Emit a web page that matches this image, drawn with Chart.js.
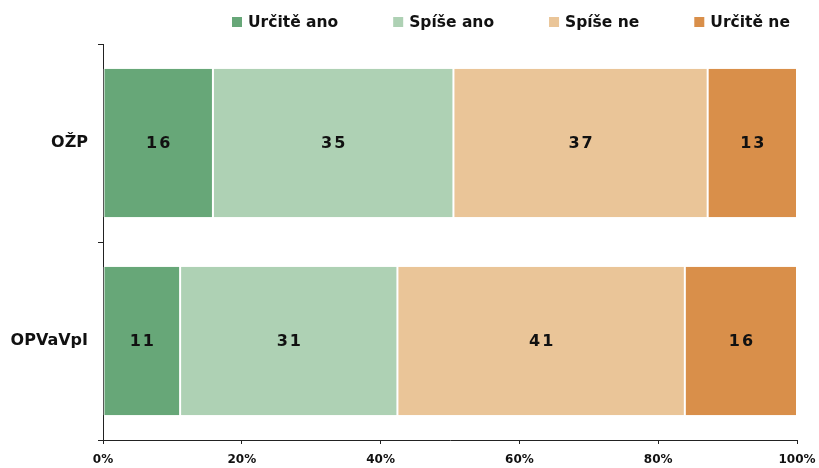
<!DOCTYPE html>
<html>
<head>
<meta charset="utf-8">
<script src="https://cdn.jsdelivr.net/npm/chart.js@4"></script>
<style>
  html, body { margin: 0; padding: 0; background: #fff; }
  #wrap { width: 819px; height: 468px; }
</style>
</head>
<body>
<div id="wrap"><canvas id="chart"></canvas></div>
<script>
// Survey answers per programme
const categories = ["OŽP", "OPVaVpI"];
const seriesNames = ["Určitě ano", "Spíše ano", "Spíše ne", "Určitě ne"];
const urciteAno = [16, 11];
const spiseAno = [35, 31];
const spiseNe = [37, 41];
const urciteNe = [13, 16];
const tickLabels = ["0%", "20%", "40%", "60%", "80%", "100%"];

const colors = ["#67a778", "#aed1b4", "#eac598", "#d98f4a"];
const raw = [urciteAno, spiseAno, spiseNe, urciteNe];
const FONT = "'DejaVu Sans'";

// bars are stacked to 100 % of each row's total
const totals = categories.map((c, i) => raw.reduce((s, arr) => s + arr[i], 0));

const datasets = raw.map((arr, k) => ({
    label: seriesNames[k],
    data: arr.map((v, i) => v / totals[i] * 100),
    raw: arr,
    backgroundColor: colors[k],
    borderColor: "#ffffff",
    borderWidth: { left: 1, right: 1, top: 0, bottom: 0 },
    borderSkipped: false,
    barPercentage: 0.75,
    categoryPercentage: 1
}));

// values written in the middle of each segment
const valueLabels = {
    id: "valueLabels",
    afterDatasetsDraw(chart) {
        const ctx = chart.ctx;
        ctx.save();
        ctx.font = "bold 16px " + FONT;
        ctx.fillStyle = "#111";
        ctx.textAlign = "center";
        ctx.textBaseline = "middle";
        ctx.letterSpacing = "2px";
        chart.data.datasets.forEach((ds, k) => {
            chart.getDatasetMeta(k).data.forEach((bar, i) => {
                const x = (bar.x + bar.base) / 2;
                ctx.fillText(String(ds.raw[i]), x + 1, bar.y + 1);
            });
        });
        ctx.restore();
    }
};

// one-row legend above the plot, wide gaps between entries
const topLegend = {
    id: "topLegend",
    afterDraw(chart) {
        const ctx = chart.ctx;
        ctx.save();
        ctx.font = "bold 15.5px " + FONT;
        ctx.textBaseline = "middle";
        ctx.textAlign = "left";
        let x = 232;
        const y = 22;
        chart.data.datasets.forEach(ds => {
            ctx.fillStyle = ds.backgroundColor;
            ctx.fillRect(x, y - 5, 10, 10);
            ctx.fillStyle = "#111";
            ctx.fillText(ds.label, x + 16, y + 1);
            x += 16 + ctx.measureText(ds.label).width + 55;
        });
        ctx.restore();
    }
};

new Chart(document.getElementById("chart"), {
    type: "bar",
    data: { labels: categories, datasets },
    options: {
        indexAxis: "y",
        responsive: true,
        maintainAspectRatio: false,
        animation: false,
        layout: { padding: { top: 44, right: 22, bottom: 0, left: 0 } },
        plugins: {
            legend: { display: false },
            tooltip: { enabled: false }
        },
        scales: {
            x: {
                stacked: true,
                min: 0,
                max: 100,
                grid: { drawOnChartArea: false, drawTicks: true, tickLength: 4, color: "#222" },
                border: { color: "#222", width: 1 },
                ticks: {
                    stepSize: 20,
                    color: "#111",
                    padding: 9,
                    maxRotation: 0,
                    font: { family: FONT, size: 12, weight: "bold" },
                    callback: (v, i) => tickLabels[i]
                },
                afterFit(s) {
                    s.height = 28;
                    s.paddingRight = 0;
                    s.paddingLeft = 0;
                }
            },
            y: {
                stacked: true,
                offset: true,
                grid: { drawOnChartArea: false, offset: true, tickLength: 5, color: "#222" },
                border: { color: "#222", width: 1 },
                ticks: {
                    color: "#111",
                    padding: 10,
                    font: { family: FONT, size: 16, weight: "bold" }
                },
                afterFit(s) { s.width = 103; }
            }
        }
    },
    plugins: [valueLabels, topLegend]
});
</script>
</body>
</html>
